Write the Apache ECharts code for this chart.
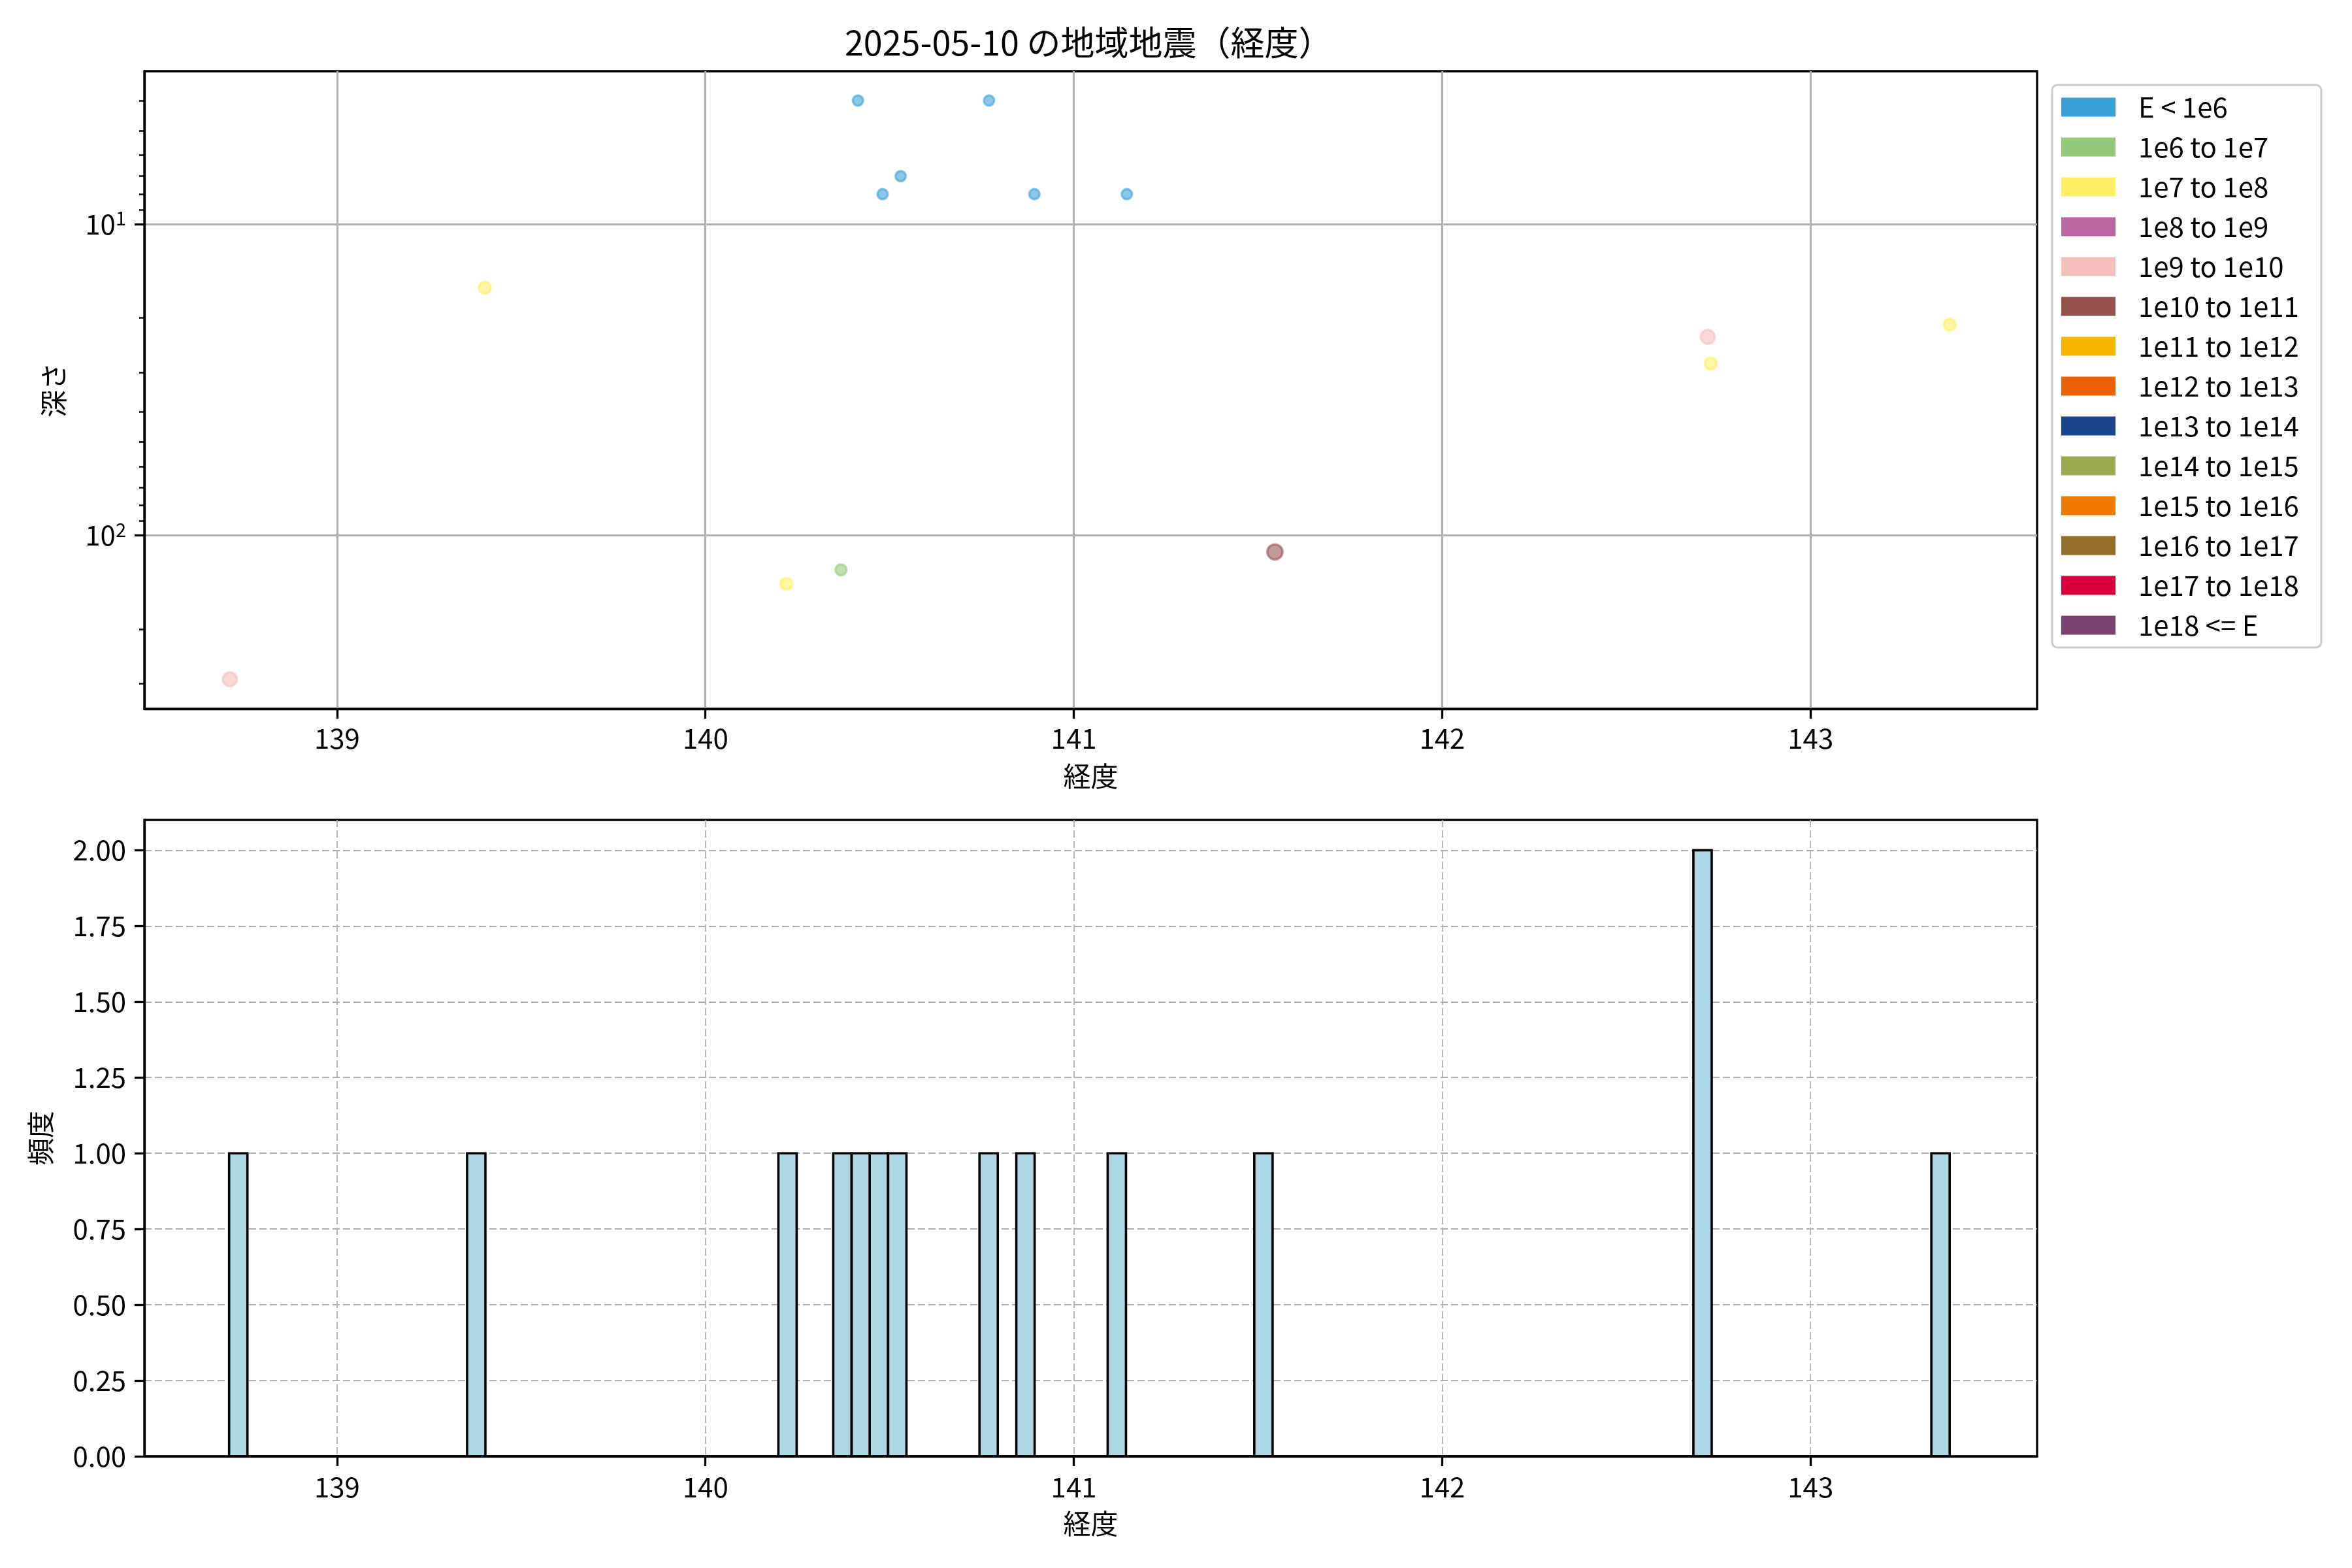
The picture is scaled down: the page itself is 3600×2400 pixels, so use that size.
<!DOCTYPE html>
<html>
<head>
<meta charset="utf-8">
<script src="https://cdn.jsdelivr.net/npm/echarts@6/dist/echarts.min.js"></script>
<style>html,body{margin:0;padding:0;background:#fff}#c{width:3600px;height:2400px}</style>
</head>
<body>
<div id="c"></div>
<script>
// ---- data ----
const classNames = ['E < 1e6','1e6 to 1e7','1e7 to 1e8','1e8 to 1e9','1e9 to 1e10','1e10 to 1e11','1e11 to 1e12','1e12 to 1e13','1e13 to 1e14','1e14 to 1e15','1e15 to 1e16','1e16 to 1e17','1e17 to 1e18','1e18 <= E'];
const classColors = ['#3aa0da','#93c978','#fff063','#bb65a3','#f5bfbb','#96514d','#f8b500','#eb6101','#1b468e','#9aab4f','#ee7800','#956f29','#d7003a','#7a4171'];
const quakeLon   = [138.709, 139.401, 140.220, 140.368, 140.414, 140.481, 140.530, 140.770, 140.893, 141.144, 141.546, 142.721, 142.729, 143.378];
const quakeDepth = [290, 16, 143, 129, 4, 8, 7, 4, 8, 8, 113, 23, 28, 21];
const quakeClass = [4, 2, 2, 1, 0, 0, 0, 0, 0, 0, 5, 4, 2, 2];
const quakeMag   = [3.0, 1.7, 1.7, 1.2, 0.7, 0.7, 0.7, 0.7, 0.7, 0.7, 3.7, 3.0, 1.7, 1.7];
const histBinLeft = [138.707, 139.353, 140.198, 140.347, 140.397, 140.446, 140.496, 140.744, 140.844, 141.092, 141.490, 142.682, 143.328];
const histCounts  = [1, 1, 1, 1, 1, 1, 1, 1, 1, 1, 1, 2, 1];
const histBinWidth = 0.0497;
const histRange = [138.707, 143.378];
const xTicks = [139, 140, 141, 142, 143];
const depthMajorTicks = [10, 100];
const depthMinorTicks = [4, 5, 6, 7, 8, 9, 20, 30, 40, 50, 60, 70, 80, 90, 200, 300];
const countTicks = [0, 0.25, 0.5, 0.75, 1.0, 1.25, 1.5, 1.75, 2.0];
const xRange = [138.477, 143.615];
const depthRange = [3.22, 361];
const countRange = [0, 2.1];

// ---- chart ----
const FONT = '"Noto Sans CJK JP", "Noto Sans", sans-serif';
function hexA(hex, a) {
  const n = parseInt(hex.slice(1), 16);
  return 'rgba(' + ((n >> 16) & 255) + ',' + ((n >> 8) & 255) + ',' + (n & 255) + ',' + a + ')';
}
const chart = echarts.init(document.getElementById('c'), null, {renderer: 'canvas'});
const tickStyle = {color: '#000', width: 3.3};
const labelStyle = {fontSize: 42, color: '#000', fontFamily: FONT};
const nameStyle = {fontSize: 42, color: '#000', fontFamily: FONT};

const scatterSeries = classNames.map((nm, c) => ({
  type: 'scatter',
  name: nm,
  xAxisIndex: 0,
  yAxisIndex: 0,
  data: quakeLon.map((x, i) => [x, quakeDepth[i], quakeMag[i], quakeClass[i]]).filter(d => d[3] === c),
  symbol: 'circle',
  symbolSize: d => 14 + 2.5 * d[2],
  itemStyle: {color: hexA(classColors[c], 0.72), borderColor: hexA(classColors[c], 0.72), borderWidth: 3.5},
  emphasis: {disabled: true},
  z: 3
}));

const histSeries = {
  type: 'custom',
  xAxisIndex: 1,
  yAxisIndex: 2,
  data: histBinLeft.map((l, i) => [l, l + histBinWidth, histCounts[i]]),
  encode: {x: [0, 1], y: 2},
  renderItem: (params, api) => {
    const p0 = api.coord([api.value(0), api.value(2)]);
    const p1 = api.coord([api.value(1), 0]);
    return {type: 'rect', shape: {x: p0[0], y: p0[1], width: p1[0] - p0[0], height: p1[1] - p0[1]},
      style: {fill: '#add8e6', stroke: '#000', lineWidth: 3.6}};
  },
  z: 3
};
const baseSeries = {
  type: 'custom',
  xAxisIndex: 1,
  yAxisIndex: 2,
  data: [[histRange[0], histRange[1], 0]],
  encode: {x: [0, 1], y: 2},
  renderItem: (params, api) => {
    const p0 = api.coord([api.value(0), 0]);
    const p1 = api.coord([api.value(1), 0]);
    return {type: 'line', shape: {x1: p0[0], y1: p0[1], x2: p1[0], y2: p1[1]}, style: {stroke: '#000', lineWidth: 3.6}};
  },
  z: 4
};

const option = {
  backgroundColor: '#fff',
  animation: false,
  textStyle: {fontFamily: FONT},
  title: {
    text: '2025-05-10 の地域地震（経度）',
    left: 1288, top: 34,
    textStyle: {fontSize: 52, fontWeight: 'normal', color: '#000', fontFamily: FONT}
  },
  legend: {
    orient: 'vertical',
    left: 3141, top: 130,
    itemWidth: 83, itemHeight: 29, itemGap: 19,
    icon: 'rect',
    selectedMode: false,
    padding: [13, 34, 13, 14],
    borderColor: '#cccccc', borderWidth: 3, borderRadius: 8,
    backgroundColor: '#fff',
    textStyle: {fontSize: 42, lineHeight: 29, color: '#000', fontFamily: FONT, padding: [0, 0, 0, 30]},
    data: classNames.map((nm, c) => ({name: nm, itemStyle: {color: classColors[c], opacity: 1, borderWidth: 0}}))
  },
  grid: [
    {left: 221, top: 109, width: 2897, height: 976, show: true, borderColor: '#000', borderWidth: 3.3, backgroundColor: 'transparent'},
    {left: 221, top: 1255, width: 2897, height: 974, show: true, borderColor: '#000', borderWidth: 3.3, backgroundColor: 'transparent'}
  ],
  xAxis: [
    {
      type: 'value', gridIndex: 0, min: xRange[0], max: xRange[1],
      axisLine: {show: true, onZero: false, lineStyle: {color: '#000', width: 3.3}},
      axisTick: {show: true, customValues: xTicks, length: 15, lineStyle: tickStyle},
      axisLabel: {customValues: xTicks, margin: 24, ...labelStyle},
      splitLine: {show: true, lineStyle: {color: '#b0b0b0', width: 3}},
      name: '経度', nameLocation: 'middle', nameGap: 82, nameTextStyle: nameStyle
    },
    {
      type: 'value', gridIndex: 1, min: xRange[0], max: xRange[1],
      axisLine: {show: true, onZero: false, lineStyle: {color: '#000', width: 3.3}},
      axisTick: {show: true, customValues: xTicks, length: 15, lineStyle: tickStyle},
      axisLabel: {customValues: xTicks, margin: 26, ...labelStyle},
      splitLine: {show: true, lineStyle: {color: '#b0b0b0', width: 1.8, type: [11, 5]}},
      name: '経度', nameLocation: 'middle', nameGap: 82, nameTextStyle: nameStyle
    }
  ],
  yAxis: [
    {
      type: 'log', gridIndex: 0, min: depthRange[0], max: depthRange[1], inverse: true,
      axisLine: {show: true, lineStyle: {color: '#000', width: 3.3}},
      axisTick: {show: true, customValues: depthMajorTicks, length: 15, lineStyle: tickStyle},
      axisLabel: {
        customValues: depthMajorTicks, margin: 28, ...labelStyle,
        formatter: v => '{b|10}{s|' + Math.round(Math.log10(v)) + '}',
        rich: {b: {fontSize: 42, color: '#000', fontFamily: FONT}, s: {fontSize: 29, color: '#000', fontFamily: FONT, padding: [0, 0, 18, 0]}}
      },
      splitLine: {show: true, lineStyle: {color: '#b0b0b0', width: 3}},
      name: '深さ', nameLocation: 'middle', nameGap: 118, nameRotate: 90, nameTextStyle: nameStyle
    },
    {
      type: 'log', gridIndex: 0, min: depthRange[0], max: depthRange[1], inverse: true, position: 'left',
      axisLine: {show: false},
      axisTick: {show: true, customValues: depthMinorTicks, length: 8, lineStyle: {color: '#000', width: 2.5}},
      axisLabel: {show: false},
      splitLine: {show: false}
    },
    {
      type: 'value', gridIndex: 1, min: countRange[0], max: countRange[1],
      axisLine: {show: true, lineStyle: {color: '#000', width: 3.3}},
      axisTick: {show: true, customValues: countTicks, length: 15, lineStyle: tickStyle},
      axisLabel: {customValues: countTicks, margin: 28, ...labelStyle, formatter: v => v.toFixed(2)},
      splitLine: {show: true, lineStyle: {color: '#b0b0b0', width: 1.8, type: [11, 5]}},
      name: '頻度', nameLocation: 'middle', nameGap: 138, nameRotate: 90, nameTextStyle: nameStyle
    }
  ],
  series: [...scatterSeries, histSeries, baseSeries]
};
chart.setOption(option);
</script>
</body>
</html>
